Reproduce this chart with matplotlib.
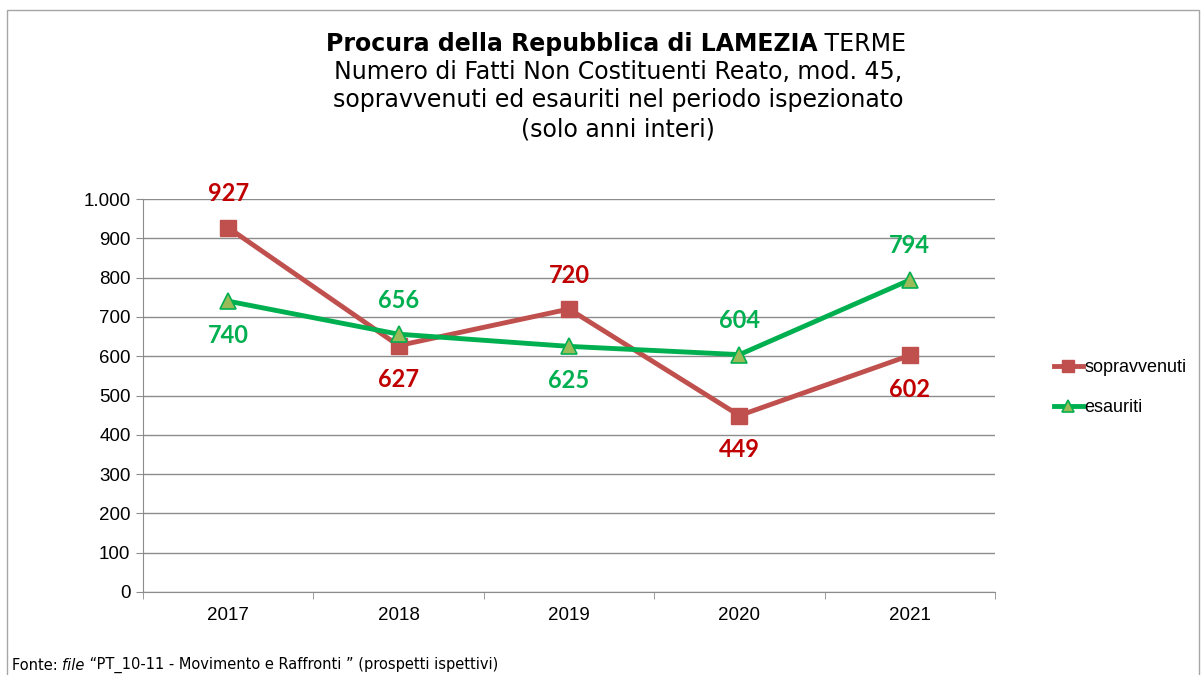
import matplotlib
matplotlib.use("Agg")
import matplotlib.pyplot as plt
from matplotlib.patches import Rectangle
from matplotlib.ticker import FuncFormatter, FixedLocator

years = ["2017", "2018", "2019", "2020", "2021"]
sopravvenuti = [927, 627, 720, 449, 602]
esauriti = [740, 656, 625, 604, 794]
# label placement: 1 = above, -1 = below
sop_pos = [1, -1, 1, -1, -1]
esa_pos = [-1, 1, -1, 1, 1]

W, H = 1203, 675
fig = plt.figure(figsize=(W / 100, H / 100), dpi=100)
fig.patch.set_facecolor("white")

# outer frame
fig.add_artist(Rectangle((7 / W, -0.02), (1199 - 7) / W, 1.02 - 10 / H,
                         transform=fig.transFigure, fill=False, edgecolor="#A6A6A6", lw=1.0))

ax = fig.add_axes([143 / W, 1 - 592 / H, (995 - 143) / W, (592 - 199) / H])
x = list(range(len(years)))

grid_c = "#8C8C8C"
ax.set_ylim(0, 1000)
ax.set_xlim(-0.5, len(years) - 0.5)
ax.set_yticks(range(0, 1001, 100))
ax.yaxis.set_major_formatter(FuncFormatter(lambda v, p: f"{int(v):,}".replace(",", ".")))
ax.grid(axis="y", color=grid_c, lw=1.0)
ax.set_axisbelow(True)
for s in ["top", "right"]:
    ax.spines[s].set_visible(False)
for s in ["left", "bottom"]:
    ax.spines[s].set_color(grid_c)
ax.set_xticks(x)
ax.set_xticklabels(years)
ax.xaxis.set_minor_locator(FixedLocator([i - 0.5 for i in range(len(years) + 1)]))
ax.tick_params(axis="x", which="major", length=0, pad=11)
ax.tick_params(axis="x", which="minor", length=5, color=grid_c)
ax.tick_params(axis="y", length=5, color=grid_c, pad=4)
for lab in ax.get_xticklabels() + ax.get_yticklabels():
    lab.set_fontfamily("Liberation Sans")
    lab.set_fontsize(13.5)

red_line = "#C0504D"
red_txt = "#C00000"
green_line = "#00B050"
green_fill = "#9BBB59"

ax.plot(x, sopravvenuti, color=red_line, lw=3.5, marker="s", ms=12,
        mfc=red_line, mec=red_line, label="sopravvenuti", zorder=3)
ax.plot(x, esauriti, color=green_line, lw=3.5, marker="^", ms=12,
        mfc=green_fill, mec=green_line, mew=1.2, label="esauriti", zorder=4)

def labels(vals, pos, color):
    for xi, v, p in zip(x, vals, pos):
        ax.annotate(str(v), (xi, v), xytext=(0, 24.5 * p), textcoords="offset points",
                    ha="center", va="center", color=color, fontsize=17,
                    fontweight="bold", fontfamily="Lato", zorder=5)

labels(sopravvenuti, sop_pos, red_txt)
labels(esauriti, esa_pos, green_line)

leg = ax.legend(loc="center left", bbox_to_anchor=(1.05, 0.52), frameon=False,
                prop={"family": "Liberation Sans", "size": 13}, handlelength=1.6,
                handletextpad=0.1, labelspacing=1.3, markerscale=0.7)

renderer = fig.canvas.get_renderer()

# title
bold_part = "Procura della Repubblica di LAMEZIA"
reg_part = " TERME"
TS = 17
tb = fig.text(0, 1 - 44 / H, bold_part, fontsize=TS, fontweight="bold", fontfamily="DejaVu Sans",
              va="center", ha="left")
tr = fig.text(0, 1 - 44 / H, reg_part, fontsize=TS, fontfamily="DejaVu Sans", va="center", ha="left")
wb = tb.get_window_extent(renderer).width
wr = tr.get_window_extent(renderer).width
start = (616 - (wb + wr) / 2) / W
tb.set_x(start)
tr.set_x(start + wb / W)
title_lines = [
    "Numero di Fatti Non Costituenti Reato, mod. 45,",
    "sopravvenuti ed esauriti nel periodo ispezionato",
    "(solo anni interi)",
]
for i, line in enumerate(title_lines):
    fig.text(618 / W, 1 - (72 + 28.5 * i) / H, line, fontsize=TS, fontfamily="DejaVu Sans",
             ha="center", va="center")

# footnote
FS = 10.5
fy = 1 - 665 / H
f1 = fig.text(12 / W, fy, "Fonte: ", fontsize=FS, fontfamily="DejaVu Sans", va="center")
w1 = f1.get_window_extent(renderer).width
f2 = fig.text(12 / W + w1 / W, fy, "file", fontsize=FS, fontfamily="DejaVu Sans",
              style="italic", va="center")
w2 = f2.get_window_extent(renderer).width
fig.text(12 / W + (w1 + w2) / W, fy,
         " \u201cPT_10-11 - Movimento e Raffronti \u201d (prospetti ispettivi)",
         fontsize=FS, fontfamily="DejaVu Sans", va="center")

fig.savefig("out.png", dpi=100)
